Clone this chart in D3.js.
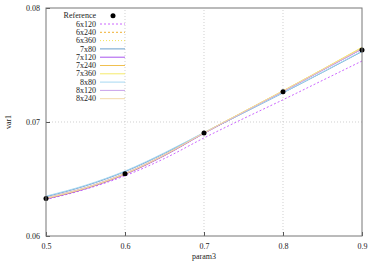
<!DOCTYPE html>
<html>
<head>
<meta charset="utf-8">
<script src="https://cdn.jsdelivr.net/npm/d3@7"></script>
<style>
body { margin: 0; background: #fff; }
text { font-family: "Liberation Serif", "DejaVu Serif", serif; font-size: 8px; fill: #222; }
</style>
</head>
<body>
<svg class="chart" width="377" height="264"></svg>
<script>
// sample positions of param3
var xs = [0.5, 0.55, 0.6, 0.65, 0.7, 0.75, 0.8, 0.85, 0.9];

var refX = [0.5, 0.6, 0.7, 0.8, 0.9];
var refY = [0.0633, 0.06545, 0.06903, 0.07265, 0.07632];

var names = ['6x120', '6x240', '6x360', '7x80', '7x120', '7x240', '7x360', '8x80', '8x120', '8x240'];

var s6x120 = [0.06320, 0.06410, 0.06528, 0.06680, 0.06860, 0.07030, 0.07195, 0.07365, 0.07535];
var s6x240 = [0.06328, 0.06418, 0.06543, 0.06708, 0.06902, 0.07085, 0.07268, 0.07457, 0.07650];
var s6x360 = [0.06330, 0.06420, 0.06546, 0.06711, 0.06905, 0.07088, 0.07271, 0.07460, 0.07652];
var s7x80  = [0.06345, 0.06440, 0.06565, 0.06725, 0.06905, 0.07080, 0.07255, 0.07435, 0.07618];
var s7x120 = [0.06325, 0.06415, 0.06540, 0.06705, 0.06900, 0.07085, 0.07268, 0.07455, 0.07640];
var s7x240 = [0.06330, 0.06420, 0.06545, 0.06710, 0.06904, 0.07088, 0.07272, 0.07460, 0.07650];
var s7x360 = [0.06332, 0.06422, 0.06547, 0.06712, 0.06906, 0.07090, 0.07274, 0.07462, 0.07655];
var s8x80  = [0.06350, 0.06445, 0.06570, 0.06730, 0.06908, 0.07082, 0.07257, 0.07438, 0.07622];
var s8x120 = [0.06335, 0.06425, 0.06550, 0.06712, 0.06903, 0.07086, 0.07268, 0.07454, 0.07640];
var s8x240 = [0.06333, 0.06423, 0.06548, 0.06712, 0.06905, 0.07089, 0.07272, 0.07460, 0.07648];

var yTicks = [0.06, 0.07, 0.08];
var xTicks = [0.5, 0.6, 0.7, 0.8, 0.9];

var series = [s6x120, s6x240, s6x360, s7x80, s7x120, s7x240, s7x360, s8x80, s8x120, s8x240];
var colors = ['#cc66ff', '#f0b030', '#f2e35a', '#6a9fcb', '#a855ee', '#f0c050', '#f5ea6a', '#a6d8f2', '#c9a0ea', '#f3d9a8'];
var dashes = ['2,2', '2,2', '1,2', null, null, null, null, null, null, null];

var margin = {left: 46, top: 8, right: 15, bottom: 28};
var width = 377, height = 264;
var chartWidth = width - margin.left - margin.right;
var chartHeight = height - margin.top - margin.bottom;

var svg = d3.select('.chart');

var x = d3.scaleLinear().domain([0.5, 0.9]).range([margin.left, margin.left + chartWidth]);
var y = d3.scaleLinear().domain([0.06, 0.08]).range([margin.top + chartHeight, margin.top]);

// grid
svg.append('g').selectAll('line.gx')
    .data(xTicks.slice(1, -1))
    .enter().append('line')
    .attr('x1', function(d){ return x(d); })
    .attr('x2', function(d){ return x(d); })
    .attr('y1', y(0.06)).attr('y2', y(0.08))
    .attr('stroke', '#bbb').attr('stroke-width', 0.7).attr('stroke-dasharray', '1,2');

svg.append('g').selectAll('line.gy')
    .data(yTicks.slice(1, -1))
    .enter().append('line')
    .attr('y1', function(d){ return y(d); })
    .attr('y2', function(d){ return y(d); })
    .attr('x1', x(0.5)).attr('x2', x(0.9))
    .attr('stroke', '#bbb').attr('stroke-width', 0.7).attr('stroke-dasharray', '1,2');

// axes
var axisX = svg.append('g')
    .attr('transform', 'translate(0,' + y(0.06) + ')')
    .call(d3.axisBottom(x).tickValues(xTicks).tickSize(-4).tickSizeOuter(0).tickPadding(7).tickFormat(d3.format('.1f')));
var axisY = svg.append('g')
    .attr('transform', 'translate(' + x(0.5) + ',0)')
    .call(d3.axisLeft(y).tickValues(yTicks).tickSize(-4).tickSizeOuter(0).tickPadding(6).tickFormat(d3.format('.2f')));
[axisX, axisY].forEach(function(a){
    a.select('.domain').remove();
    a.selectAll('line').attr('stroke', '#555');
    a.selectAll('text').style('font-family', '"Liberation Serif", serif').style('font-size', '8px').attr('fill', '#222');
});

// lines
var line = d3.line()
    .x(function(d, i){ return x(xs[i]); })
    .y(function(d){ return y(d); })
    .curve(d3.curveMonotoneX);

svg.append('g').selectAll('path')
    .data(series)
    .enter().append('path')
    .attr('d', line)
    .attr('fill', 'none')
    .attr('stroke', function(d, i){ return colors[i]; })
    .attr('stroke-width', 1)
    .attr('stroke-dasharray', function(d, i){ return dashes[i]; });

svg.append('g').selectAll('circle')
    .data(refY)
    .enter().append('circle')
    .attr('cx', function(d, i){ return x(refX[i]); })
    .attr('cy', function(d){ return y(d); })
    .attr('r', 2.5)
    .attr('fill', '#000');

// border
svg.append('rect')
    .attr('x', x(0.5)).attr('y', y(0.08))
    .attr('width', chartWidth).attr('height', chartHeight)
    .attr('fill', 'none').attr('stroke', '#777').attr('stroke-width', 1);

// legend
var legend = svg.append('g');
var rowH = 8.3, ly0 = 15.7;
legend.append('text').attr('x', 96).attr('y', ly0).attr('dy', '0.33em').attr('text-anchor', 'end').text('Reference');
legend.append('circle').attr('cx', 113).attr('cy', ly0).attr('r', 2.5).attr('fill', '#000');

var rows = legend.selectAll('g.row')
    .data(names)
    .enter().append('g')
    .attr('transform', function(d, i){ return 'translate(0,' + (ly0 + (i + 1) * rowH) + ')'; });
rows.append('text').attr('x', 96).attr('dy', '0.33em').attr('text-anchor', 'end').text(function(d){ return d; });
rows.append('line')
    .attr('x1', 100).attr('x2', 125)
    .attr('stroke', function(d, i){ return colors[i]; })
    .attr('stroke-width', 1)
    .attr('stroke-dasharray', function(d, i){ return dashes[i]; });

// titles
svg.append('text').attr('x', x(0.7)).attr('y', 259).attr('text-anchor', 'middle').text('param3');
svg.append('text').attr('transform', 'translate(11,' + y(0.07) + ') rotate(-90)').attr('text-anchor', 'middle').text('var1');
</script>
</body>
</html>
